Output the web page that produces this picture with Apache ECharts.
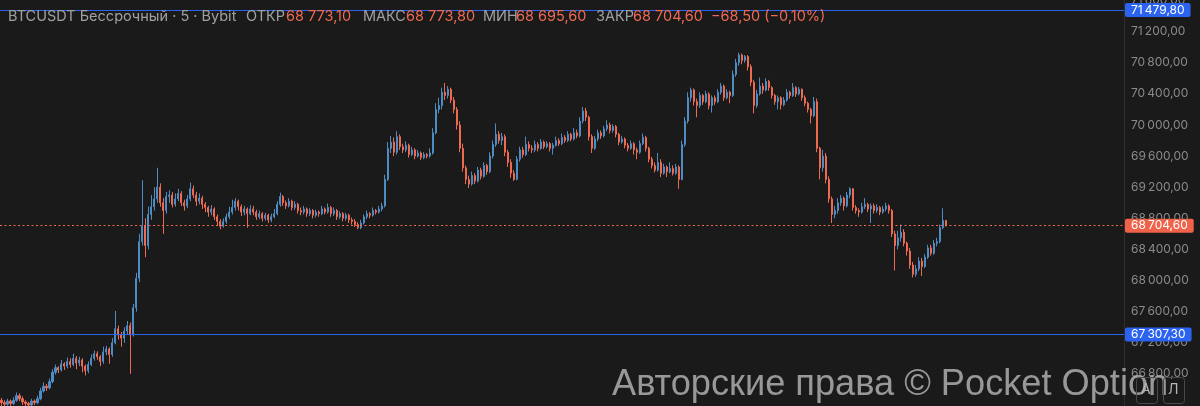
<!DOCTYPE html>
<html><head><meta charset="utf-8">
<script src="https://cdn.jsdelivr.net/npm/echarts@6/dist/echarts.min.js"></script>
<style>html,body{margin:0;padding:0;background:#1a1a1a;}#c{width:1200px;height:406px;}</style>
</head><body><div id="c"></div>
<script>
// 5-minute candles, each row: [open, close, low, high]
const ohlc = [
[66460,66430,66380,66490],[66430,66410,66370,66460],[66410,66450,66390,66480],[66450,66420,66380,66470],[66420,66460,66400,66500],
[66460,66520,66440,66560],[66520,66480,66450,66550],[66480,66440,66400,66510],
[66440,66420,66380,66460],[66420,66400,66360,66440],[66400,66450,66380,66480],[66450,66430,66400,66470],[66430,66480,66410,66520],
[66480,66580,66460,66620],[66580,66640,66560,66690],[66640,66620,66580,66670],[66620,66700,66600,66740],
[66700,66820,66680,66860],[66820,66880,66790,66920],[66880,66850,66810,66900],[66850,66930,66830,66980],[66930,66900,66850,66950],
[66900,66960,66870,67010],[66960,66920,66880,67000],[66920,67000,66900,67060],[67000,66940,66860,67030],[66940,66980,66900,67020],
[66980,66900,66820,67000],[66900,66840,66780,66920],[66840,66920,66810,66960],
[66920,67000,66900,67050],[67000,67060,66970,67100],[67060,67020,66980,67090],
[67020,66960,66900,67040],[66960,67080,66930,67150],[67080,67120,67040,67160],[67120,67050,66930,67140],
[67050,67200,67020,67260],[67200,67380,67180,67610],[67380,67300,67240,67420],[67300,67260,67150,67340],[67260,67350,67200,67400],[67350,67420,67300,67480],
[67420,67300,66800,67460],
[67300,67650,67280,67700],[67650,68030,67600,68100],[68030,68500,67980,68600],
[68500,68700,68450,69290],[68700,68450,68300,68800],[68450,68850,68400,68950],
[68850,68950,68780,69100],[68950,69050,68900,69200],[69050,69200,69000,69450],[69200,69000,68950,69250],[69000,68900,68600,69060],[68900,69080,68860,69140],
[69080,69100,69000,69160],[69100,68980,68940,69140],[68980,69050,68950,69120],[69050,69120,69020,69180],[69120,69000,68960,69150],[69000,68960,68900,69040],[68960,69050,68930,69100],
[69050,69180,69020,69260],[69180,69100,69060,69220],[69100,69020,68960,69140],[69020,69060,68980,69120],[69060,68980,68920,69090],[68980,68940,68880,69010],
[68940,68880,68820,68960],[68880,68920,68840,68970],[68920,68820,68780,68940],[68820,68760,68700,68850],[68760,68700,68660,68790],[68700,68760,68680,68800],[68760,68820,68730,68860],
[68820,68880,68790,68950],[68880,68940,68850,69040],[68940,69020,68900,69060],[69020,68950,68900,69040],[68950,68880,68830,68980],[68880,68920,68840,68960],[68920,68860,68680,68940],[68860,68920,68840,68970],
[68920,68880,68840,68960],[68880,68820,68780,68910],[68820,68860,68790,68900],
[68860,68800,68760,68880],[68800,68840,68770,68870],[68840,68780,68740,68860],[68780,68820,68750,68860],[68820,68860,68800,68920],
[68860,68980,68840,69020],[68980,69080,68950,69130],
[69080,69000,68960,69100],[69000,68960,68920,69030],[68960,69020,68940,69060],[69020,68940,68900,69040],[68940,68980,68910,69020],[68980,68900,68860,69000],
[68900,68880,68840,68940],[68880,68920,68850,68960],[68920,68860,68820,68940],[68860,68900,68830,68930],[68900,68840,68800,68920],[68840,68880,68810,68910],[68880,68860,68820,68900],
[68860,68920,68840,68960],[68920,68880,68850,68940],[68880,68940,68860,68990],[68940,68860,68820,68960],[68860,68900,68830,68940],
[68900,68820,68780,68920],[68820,68860,68790,68890],[68860,68800,68760,68880],[68800,68840,68770,68870],[68840,68780,68740,68860],
[68780,68760,68720,68810],[68760,68720,68690,68790],[68720,68680,68660,68750],[68680,68740,68660,68780],
[68740,68820,68720,68850],[68820,68860,68790,68900],[68860,68840,68800,68880],[68840,68900,68820,68940],[68900,68880,68850,68920],[68880,68920,68860,68960],[68920,68960,68890,69000],
[68960,69300,68940,69360],[69300,69700,69280,69780],
[69700,69780,69640,69860],[69780,69650,69600,69840],[69650,69850,69620,69920],[69850,69720,69680,69880],
[69720,69680,69640,69760],[69680,69740,69650,69790],[69740,69620,69580,69760],[69620,69680,69600,69720],[69680,69600,69560,69700],[69600,69640,69580,69680],
[69640,69580,69550,69660],[69580,69620,69560,69650],[69620,69600,69570,69640],[69600,69640,69580,69700],
[69640,69900,69620,69960],[69900,70200,69880,70280],[70200,70250,70150,70350],
[70250,70420,70200,70480],[70420,70380,70320,70540],[70380,70460,70340,70500],[70460,70320,70280,70480],[70320,70200,70150,70360],
[70200,70000,69940,70230],[70000,69700,69650,70050],[69700,69450,69400,69760],[69450,69300,69240,69480],[69300,69240,69190,69350],
[69240,69350,69220,69400],[69350,69280,69240,69380],[69280,69420,69260,69460],[69420,69340,69300,69450],[69340,69480,69320,69520],[69480,69400,69360,69500],
[69400,69600,69380,69650],[69600,69750,69570,69800],[69750,69880,69720,70020],[69880,69800,69760,69920],
[69800,69850,69740,69900],[69850,69650,69600,69880],[69650,69520,69460,69680],[69520,69380,69320,69560],[69380,69300,69280,69420],
[69300,69560,69290,69600],[69560,69680,69530,69720],[69680,69620,69580,69720],[69620,69750,69600,69850],[69750,69700,69660,69790],
[69700,69680,69640,69740],[69680,69750,69650,69800],[69750,69700,69660,69780],[69700,69780,69680,69820],[69780,69720,69690,69800],[69720,69760,69700,69790],[69760,69700,69660,69780],[69700,69740,69620,69770],
[69740,69800,69720,69850],[69800,69760,69730,69830],[69760,69840,69740,69890],[69840,69800,69770,69870],[69800,69880,69780,69920],[69880,69820,69790,69900],[69820,69900,69800,69960],[69900,69860,69830,69940],
[69860,70050,69840,70100],[70050,70180,70020,70230],[70180,70100,70050,70220],
[70100,69850,69800,70120],[69850,69700,69640,69880],
[69700,69820,69680,69860],[69820,69900,69790,69940],[69900,69860,69820,69930],[69860,69950,69840,69990],[69950,70000,69920,70060],[70000,69930,69890,70030],[69930,69980,69900,70010],[69980,69880,69840,70000],
[69880,69780,69740,69900],[69780,69820,69760,69860],[69820,69740,69700,69840],[69740,69700,69660,69770],[69700,69760,69680,69800],[69760,69680,69620,69780],
[69680,69650,69560,69710],[69650,69760,69630,69800],[69760,69840,69740,69890],[69840,69700,69660,69860],
[69700,69560,69520,69720],[69560,69480,69440,69590],[69480,69420,69390,69520],[69420,69520,69400,69640],[69520,69380,69330,69560],[69380,69460,69360,69500],[69460,69400,69330,69480],
[69400,69440,69380,69520],[69440,69380,69350,69480],[69380,69460,69360,69500],[69460,69300,69180,69480],
[69300,69750,69290,69800],[69750,70050,69720,70100],[70050,70350,70020,70420],
[70350,70450,70300,70480],[70450,70300,70250,70470],[70300,70250,70100,70340],[70250,70380,70220,70420],
[70380,70300,70260,70400],[70300,70400,70280,70440],[70400,70250,70200,70420],[70250,70350,70160,70380],[70350,70300,70260,70380],[70300,70420,70280,70460],
[70420,70500,70390,70540],[70500,70350,70310,70520],[70350,70420,70330,70460],[70420,70380,70280,70440],
[70380,70650,70360,70700],[70650,70800,70620,70850],[70800,70900,70760,70930],
[70900,70830,70780,70920],[70830,70880,70800,70900],[70880,70750,70700,70900],
[70750,70550,70500,70780],[70550,70250,70150,70580],
[70250,70400,70220,70450],[70400,70500,70380,70610],[70500,70450,70400,70540],[70450,70560,70430,70600],[70560,70480,70440,70580],
[70480,70380,70340,70500],[70380,70300,70260,70400],[70300,70350,70200,70380],[70350,70260,70200,70370],[70260,70320,70240,70360],
[70320,70420,70300,70460],[70420,70380,70340,70440],[70380,70480,70360,70540],[70480,70400,70360,70500],[70400,70460,70380,70490],
[70460,70350,70310,70470],[70350,70280,70240,70380],[70280,70200,70160,70300],[70200,70120,70020,70220],
[70120,70300,70100,70360],[70300,69700,69650,70340],[69700,69450,69300,69720],
[69450,69600,69400,69680],[69600,69300,69250,69640],[69300,69050,69000,69340],
[69050,68850,68740,69080],[68850,68900,68800,68960],
[68900,69000,68860,69060],[69000,69060,68960,69100],[69060,68960,68900,69080],[68960,69100,68940,69140],[69100,69180,69060,69200],
[69180,68940,68900,69190],[68940,68900,68860,68970],[68900,68880,68820,68930],
[68880,68950,68860,69000],[68950,68980,68920,69060],[68980,68920,68880,69000],[68920,68960,68740,68990],[68960,68900,68860,68990],[68900,68940,68870,68980],[68940,68880,68840,68960],[68880,68920,68860,68960],[68920,68960,68890,69000],[68960,68900,68860,68980],
[68900,68600,68560,68920],[68600,68450,68130,68640],
[68450,68550,68400,68640],[68550,68620,68500,68720],[68620,68480,68440,68660],[68480,68380,68320,68500],
[68380,68200,68150,68420],[68200,68080,68040,68240],[68080,68150,68050,68200],[68150,68250,68120,68300],[68250,68180,68060,68290],[68180,68300,68160,68340],
[68300,68420,68280,68460],[68420,68350,68320,68460],[68350,68480,68330,68520],[68480,68500,68440,68550],
[68500,68680,68480,68720],[68680,68773.1,68660,68930],[68773.1,68704.6,68695.6,68773.8]
];
const slotCount = 375;                 // visible time slots across the plot
const categories = Array.from({length: slotCount}, (_, i) => String(i));
const yTicks = [66800, 67200, 67600, 68000, 68400, 68800, 69200, 69600, 70000, 70400, 70800, 71200, 71600];
const levelHigh = 71479.8;
const levelLow = 67307.3;
const lastPrice = 68704.6;
const headerLabels = ['ОТКР', 'МАКС', 'МИН', 'ЗАКР'];
const headerValues = ['68 773,10', '68 773,80', '68 695,60', '68 704,60'];
const changeText = '\u221268,50 (\u22120,10%)';

const UP = '#4f8cc4', DOWN = '#ee6a50', BLUE = '#2b63f0', LASTC = '#f06a4e';
function fmt(v) {
  const s = Number(v).toFixed(2);
  const [a, b] = s.split('.');
  return a.replace(/\B(?=(\d{3})+(?!\d))/g, '\u2009') + ',' + b;
}

const chart = echarts.init(document.getElementById('c'), null, {renderer: 'canvas', width: 1200, height: 406});
const hdrFont = {fontFamily: 'Inter', fontSize: 14.5};
const HDR_TOP = 9;
const headerX = [[246, 286], [363, 406], [483, 516], [596, 633]];
const graphics = [
  {type: 'text', left: 8, top: HDR_TOP, z: 50, style: Object.assign({text: 'BTCUSDT Бессрочный · 5 · Bybit', fill: '#a0a0a0'}, hdrFont)}
];
headerLabels.forEach((t, k) => {
  graphics.push({type: 'text', left: headerX[k][0], top: HDR_TOP, z: 50, style: Object.assign({text: t, fill: '#a0a0a0'}, hdrFont)});
  graphics.push({type: 'text', left: headerX[k][1], top: HDR_TOP, z: 50, style: Object.assign({text: headerValues[k], fill: DOWN}, hdrFont)});
});
graphics.push({type: 'text', left: 711, top: HDR_TOP, z: 50, style: Object.assign({text: changeText, fill: DOWN}, hdrFont)});
// watermark
graphics.push({type: 'text', left: 612, top: 367, z: 60, style: {text: 'Авторские права © Pocket Option', fill: 'rgba(175,175,175,0.85)', fontFamily: 'Liberation Sans', fontSize: 36.2}});
// small buttons
graphics.push({type: 'rect', left: 1136, top: 377, z: 70, shape: {width: 21, height: 26, r: 3}, style: {fill: 'rgba(0,0,0,0)', stroke: '#4a4a4a', lineWidth: 1}});
graphics.push({type: 'rect', left: 1163, top: 377, z: 70, shape: {width: 21, height: 26, r: 3}, style: {fill: 'rgba(0,0,0,0)', stroke: '#4a4a4a', lineWidth: 1}});
graphics.push({type: 'text', left: 1141, top: 383, z: 71, style: {text: 'А', fill: '#b5b5b5', fontFamily: 'Inter', fontSize: 14}});
graphics.push({type: 'text', left: 1168, top: 383, z: 71, style: {text: 'Л', fill: '#b5b5b5', fontFamily: 'Inter', fontSize: 14}});

// one helper series per horizontal level, so each keeps its own colour
function levelSeries(value, color, type, bg) {
  return {
    type: 'line', data: [], silent: true, color: color,
    markLine: {
      symbol: 'none', silent: true, animation: false,
      lineStyle: {color: color, width: 1, type: type, opacity: 1},
      emphasis: {disabled: true},
      label: {
        show: true, position: 'end', distance: 1, formatter: p => fmt(p.value),
        color: '#ffffff', backgroundColor: bg, padding: [1, 6, 0, 6], borderRadius: 2,
        fontFamily: 'Inter', fontSize: 12, lineHeight: 13
      },
      data: [{yAxis: value}]
    }
  };
}

chart.setOption({
  backgroundColor: '#1a1a1a',
  animation: false,
  grid: {left: 0, right: 76, top: 0, bottom: 0, containLabel: false, outerBoundsMode: 'none'},
  xAxis: {type: 'category', data: categories, boundaryGap: true, show: false},
  yAxis: {
    type: 'value', position: 'right', min: 66387, max: 71607,
    splitLine: {show: false},
    axisLine: {show: true, lineStyle: {color: '#2f2f2f'}},
    axisTick: {show: false},
    axisLabel: {customValues: yTicks, formatter: fmt, color: '#8a8a8a', fontFamily: 'Inter', fontSize: 12, margin: 7, align: 'left'}
  },
  graphic: graphics,
  series: [{
    type: 'candlestick',
    data: ohlc,
    barWidth: 1.6,
    large: false,
    clip: true,
    itemStyle: {color: UP, color0: DOWN, borderColor: UP, borderColor0: DOWN, borderWidth: 1}
  },
  levelSeries(levelHigh, BLUE, 'solid', BLUE),
  levelSeries(levelLow, BLUE, 'solid', BLUE),
  levelSeries(lastPrice, LASTC, [2, 2.5], '#f0634a')
  ]
});
</script>
</body></html>
